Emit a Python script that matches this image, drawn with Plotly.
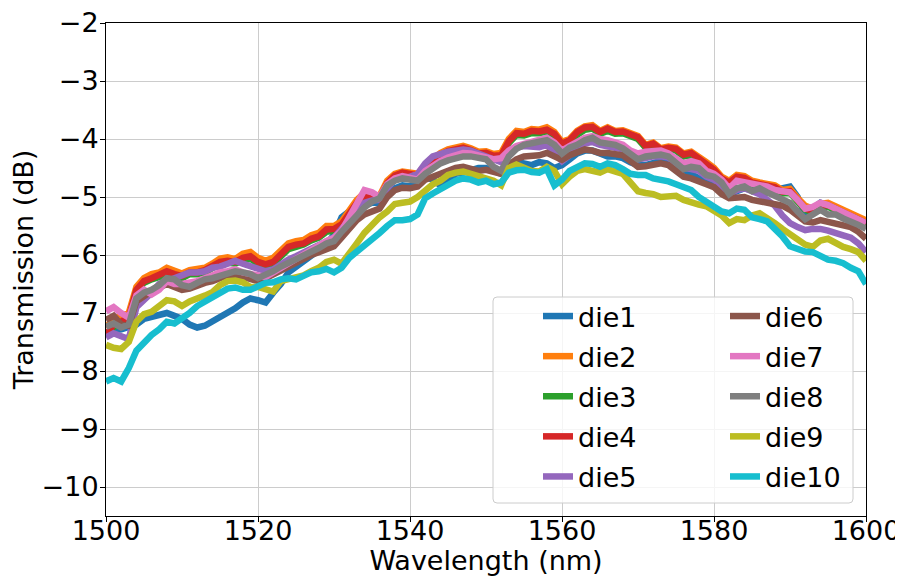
import plotly.graph_objects as go

wavelength = list(range(1500, 1601))

die1 = [-7.35, -7.3, -7.28, -7.25, -7.2, -7.1, -7.07, -7.02, -7.0, -7.05,
        -7.1, -7.2, -7.25, -7.22, -7.15, -7.05, -6.98, -6.92, -6.82, -6.75,
        -6.78, -6.82, -6.65, -6.5, -6.3, -6.2, -6.1, -6.0, -5.9, -5.82,
        -5.65, -5.35, -5.25, -5.3, -5.15, -5.1, -5.1, -4.95, -4.85, -4.8,
        -4.82, -4.75, -4.65, -4.7, -4.8, -4.75, -4.6, -4.58, -4.55, -4.5,
        -4.5, -4.55, -4.6, -4.5, -4.4, -4.42, -4.45, -4.4, -4.42, -4.5,
        -4.45, -4.35, -4.25, -4.2, -4.2, -4.25, -4.3, -4.3, -4.33, -4.4,
        -4.45, -4.45, -4.42, -4.38, -4.38, -4.45, -4.55, -4.62, -4.68, -4.7,
        -4.75, -4.85, -4.95, -4.9, -4.85, -4.88, -4.9, -4.92, -4.95, -4.85,
        -4.82, -5.0, -5.3, -5.2, -5.1, -5.15, -5.25, -5.3, -5.35, -5.42, -5.5]
die2 = [-7.25, -7.1, -7.05, -7.0, -6.55, -6.4, -6.33, -6.3, -6.22, -6.28,
        -6.32, -6.26, -6.25, -6.22, -6.15, -6.06, -6.04, -6.07, -5.98, -5.95,
        -6.05, -6.1, -6.05, -5.92, -5.8, -5.76, -5.74, -5.66, -5.62, -5.5,
        -5.5, -5.42, -5.25, -5.05, -4.93, -4.96, -4.98, -4.72, -4.6, -4.56,
        -4.57, -4.6, -4.45, -4.33, -4.24, -4.18, -4.15, -4.12, -4.16, -4.22,
        -4.21, -4.26, -4.24, -4.0, -3.86, -3.88, -3.83, -3.84, -3.8, -3.88,
        -4.05, -4.0, -3.86, -3.78, -3.76, -3.86, -3.8, -3.86, -3.85, -3.9,
        -3.95, -4.1, -4.06, -4.16, -4.13, -4.15, -4.25, -4.22, -4.3, -4.4,
        -4.5, -4.65, -4.72, -4.62, -4.64, -4.72, -4.75, -4.78, -4.8, -4.88,
        -4.86, -5.02, -5.15, -5.2, -5.12, -5.1, -5.16, -5.22, -5.27, -5.32, -5.4]
die3 = [-7.4, -7.24, -7.2, -7.12, -6.62, -6.48, -6.42, -6.38, -6.3, -6.36,
        -6.4, -6.33, -6.33, -6.3, -6.24, -6.15, -6.13, -6.15, -6.1, -6.06,
        -6.16, -6.2, -6.15, -6.02, -5.9, -5.86, -5.82, -5.75, -5.7, -5.6,
        -5.58, -5.5, -5.33, -5.14, -5.02, -5.03, -5.05, -4.8, -4.66, -4.62,
        -4.63, -4.66, -4.52, -4.4, -4.3, -4.24, -4.2, -4.18, -4.22, -4.28,
        -4.27, -4.32, -4.31, -4.07, -3.93, -3.94, -3.9, -3.9, -3.87, -3.94,
        -4.1, -4.05, -3.93, -3.84, -3.82, -3.91, -3.86, -3.91, -3.9, -3.95,
        -4.0, -4.15, -4.1, -4.21, -4.18, -4.2, -4.3, -4.27, -4.36, -4.46,
        -4.56, -4.71, -4.78, -4.68, -4.7, -4.78, -4.8, -4.84, -4.86, -4.94,
        -4.93, -5.08, -5.22, -5.27, -5.18, -5.17, -5.22, -5.29, -5.33, -5.39, -5.48]
die4 = [-7.38, -7.2, -7.15, -7.08, -6.6, -6.45, -6.4, -6.35, -6.28, -6.33,
        -6.36, -6.3, -6.3, -6.26, -6.2, -6.12, -6.1, -6.12, -6.05, -6.02,
        -6.12, -6.16, -6.12, -5.98, -5.86, -5.82, -5.8, -5.72, -5.68, -5.56,
        -5.55, -5.47, -5.3, -5.1, -4.98, -5.0, -5.02, -4.76, -4.63, -4.58,
        -4.6, -4.63, -4.5, -4.36, -4.28, -4.21, -4.18, -4.15, -4.19, -4.25,
        -4.24, -4.29, -4.28, -4.04, -3.9, -3.91, -3.86, -3.87, -3.84, -3.91,
        -4.08, -4.02, -3.88, -3.8, -3.79, -3.88, -3.82, -3.88, -3.87, -3.92,
        -3.97, -4.12, -4.08, -4.18, -4.15, -4.17, -4.27, -4.24, -4.33, -4.43,
        -4.53, -4.68, -4.75, -4.65, -4.67, -4.75, -4.78, -4.81, -4.83, -4.91,
        -4.9, -5.05, -5.2, -5.24, -5.15, -5.14, -5.2, -5.26, -5.3, -5.36, -5.45]
die5 = [-7.42, -7.35, -7.4, -7.45, -6.9, -6.78, -6.65, -6.5, -6.45, -6.4,
        -6.35, -6.3, -6.3, -6.28, -6.22, -6.2, -6.15, -6.1, -6.15, -6.2,
        -6.25, -6.28, -6.25, -6.15, -6.08, -6.02, -5.95, -5.88, -5.82, -5.75,
        -5.7, -5.55, -5.4, -5.22, -5.1, -5.06, -5.05, -4.85, -4.7, -4.66,
        -4.65, -4.6, -4.42, -4.3, -4.25, -4.22, -4.2, -4.18, -4.2, -4.25,
        -4.3, -4.36, -4.4, -4.25, -4.15, -4.12, -4.12, -4.14, -4.1, -4.25,
        -4.38, -4.28, -4.15, -4.08, -4.05, -4.1, -4.12, -4.14, -4.18, -4.27,
        -4.35, -4.33, -4.3, -4.3, -4.32, -4.42, -4.5, -4.52, -4.55, -4.65,
        -4.7, -4.82, -4.95, -4.88, -4.85, -4.9, -4.95, -5.05, -5.15, -5.32,
        -5.45, -5.52, -5.57, -5.55, -5.55, -5.58, -5.63, -5.66, -5.7, -5.8, -5.95]
die6 = [-7.12, -7.05, -7.2, -7.22, -6.8, -6.7, -6.62, -6.56, -6.5, -6.55,
        -6.6, -6.58, -6.52, -6.48, -6.45, -6.4, -6.35, -6.34, -6.38, -6.42,
        -6.45, -6.4, -6.33, -6.26, -6.2, -6.14, -6.08, -6.0, -5.95, -5.9,
        -5.85, -5.7, -5.55, -5.4, -5.3, -5.24, -5.2, -5.0, -4.88, -4.84,
        -4.85, -4.82, -4.7, -4.65, -4.6, -4.54, -4.5, -4.48, -4.52, -4.55,
        -4.53, -4.56, -4.6, -4.45, -4.35, -4.3, -4.3, -4.28, -4.24, -4.3,
        -4.36, -4.28, -4.22, -4.18, -4.2, -4.24, -4.24, -4.25, -4.28, -4.38,
        -4.48, -4.47, -4.45, -4.42, -4.45, -4.55, -4.65, -4.68, -4.72, -4.78,
        -4.83, -4.95, -5.02, -5.0, -5.0, -5.05, -5.08, -5.1, -5.12, -5.15,
        -5.22, -5.33, -5.42, -5.44, -5.4, -5.43, -5.46, -5.48, -5.52, -5.6, -5.72]
die7 = [-6.97, -6.9, -7.0, -7.08, -6.7, -6.6, -6.68, -6.6, -6.45, -6.5,
        -6.5, -6.48, -6.45, -6.4, -6.35, -6.3, -6.28, -6.25, -6.3, -6.32,
        -6.35, -6.38, -6.3, -6.22, -6.15, -6.08, -6.0, -5.92, -5.85, -5.76,
        -5.7, -5.58, -5.35, -5.1, -4.88, -4.92, -5.0, -4.78, -4.68, -4.64,
        -4.66, -4.7, -4.55, -4.45, -4.38, -4.32, -4.28, -4.24, -4.25, -4.28,
        -4.3, -4.35, -4.33, -4.2, -4.12, -4.08, -4.05, -4.0, -3.98, -4.06,
        -4.2, -4.12, -4.05, -3.98, -3.95, -4.0, -4.02, -4.05, -4.1, -4.2,
        -4.25, -4.22, -4.22, -4.2, -4.25, -4.35, -4.42, -4.38, -4.42, -4.55,
        -4.6, -4.7, -4.85, -4.72, -4.75, -4.78, -4.8, -4.82, -4.88, -4.9,
        -4.92, -5.05, -5.2, -5.17, -5.1, -5.14, -5.2, -5.24, -5.3, -5.36, -5.45]
die8 = [-7.24, -7.18, -7.25, -7.2, -6.75, -6.65, -6.6, -6.52, -6.4, -6.42,
        -6.52, -6.55, -6.48, -6.42, -6.4, -6.36, -6.3, -6.28, -6.3, -6.33,
        -6.4, -6.35, -6.28, -6.2, -6.14, -6.06, -6.0, -5.95, -5.88, -5.8,
        -5.76, -5.6, -5.45, -5.3, -5.18, -5.08, -5.02, -4.8, -4.72, -4.68,
        -4.71, -4.72, -4.6, -4.5, -4.42, -4.37, -4.33, -4.3, -4.3, -4.32,
        -4.35, -4.48, -4.55, -4.3, -4.17, -4.1, -4.08, -4.05, -4.02, -4.1,
        -4.25, -4.15, -4.1, -4.02, -3.98, -4.06, -4.08, -4.1, -4.16, -4.25,
        -4.35, -4.3, -4.28, -4.27, -4.3, -4.4, -4.52, -4.48, -4.5, -4.62,
        -4.65, -4.75, -4.95, -4.85, -4.82, -4.9, -4.85, -4.92, -4.98, -5.02,
        -5.1, -5.25, -5.38, -5.3, -5.22, -5.3, -5.3, -5.37, -5.42, -5.48, -5.55]
die9 = [-7.55, -7.6, -7.62, -7.5, -7.15, -7.02, -6.98, -6.88, -6.78, -6.8,
        -6.88, -6.8, -6.76, -6.7, -6.64, -6.52, -6.45, -6.44, -6.47, -6.55,
        -6.55, -6.6, -6.63, -6.45, -6.42, -6.38, -6.35, -6.28, -6.22, -6.12,
        -6.08, -6.15, -5.95, -5.8, -5.62, -5.48, -5.35, -5.25, -5.12, -5.1,
        -5.08, -5.0, -4.88, -4.78, -4.72, -4.62, -4.58, -4.56, -4.6, -4.64,
        -4.66, -4.72, -4.8, -4.5, -4.44, -4.5, -4.55, -4.56, -4.48, -4.55,
        -4.78, -4.65, -4.55, -4.52, -4.56, -4.58, -4.52, -4.55, -4.6, -4.75,
        -4.9, -4.93, -4.95, -5.0, -5.0, -4.98, -5.05, -5.1, -5.13, -5.16,
        -5.25, -5.32, -5.45, -5.38, -5.4, -5.32, -5.28, -5.35, -5.45, -5.55,
        -5.65, -5.75, -5.82, -5.86, -5.75, -5.72, -5.8, -5.86, -5.9, -5.95, -6.1]
die10 = [-8.18, -8.12, -8.18, -7.95, -7.65, -7.5, -7.38, -7.28, -7.15, -7.18,
         -7.1, -7.0, -6.88, -6.8, -6.75, -6.64, -6.58, -6.56, -6.6, -6.6,
         -6.55, -6.48, -6.47, -6.42, -6.4, -6.42, -6.36, -6.3, -6.28, -6.24,
         -6.3, -6.22, -6.05, -5.95, -5.82, -5.75, -5.62, -5.5, -5.4, -5.4,
         -5.38, -5.3, -5.02, -4.94, -4.86, -4.78, -4.72, -4.68, -4.7, -4.75,
         -4.72, -4.78, -4.75, -4.58, -4.54, -4.53, -4.57, -4.58, -4.52, -4.8,
         -4.7, -4.55, -4.48, -4.42, -4.43, -4.48, -4.42, -4.45, -4.52, -4.6,
         -4.62, -4.62, -4.68, -4.7, -4.73, -4.78, -4.82, -4.88, -5.0, -5.08,
         -5.15, -5.25, -5.28, -5.2, -5.22, -5.35, -5.38, -5.42, -5.55, -5.68,
         -5.85, -5.9, -5.94, -5.95, -6.02, -6.08, -6.1, -6.14, -6.22, -6.28, -6.5]

names = ["die1", "die2", "die3", "die4", "die5", "die6", "die7", "die8", "die9", "die10"]
series = [die1, die2, die3, die4, die5, die6, die7, die8, die9, die10]
colors = ["#1f77b4", "#ff7f0e", "#2ca02c", "#d62728", "#9467bd",
          "#8c564b", "#e377c2", "#7f7f7f", "#bcbd22", "#17becf"]

FONT = "DejaVu Sans"

fig = go.Figure()
for i, (n, s, c) in enumerate(zip(names, series, colors)):
    fig.add_trace(go.Scatter(
        x=wavelength, y=s, mode="lines", name=n, legendgroup=n,
        line=dict(color=c, width=6.5),
        legend="legend" if i < 5 else "legend2",
    ))

# page offset of the plot div (browser body margin)
OFF = 8
# plot area in page pixels
PX0, PX1, PY0, PY1 = 106, 866, 23, 516
W, H = 903 - OFF, 576 - OFF
L, T = PX0 - OFF, PY0 - OFF
R = W - (PX1 - OFF)
B = H - (PY1 - OFF)
pw, ph = PX1 - PX0, PY1 - PY0


def px_x(p):
    return (p - PX0) / pw


def px_y(p):
    return (PY1 - p) / ph


# rounded legend frame (matplotlib style)
x0, x1, y0, y1 = 493, 853, 297, 503
r = 4
rx, ry = r / pw, r / ph
X0, X1, Y0, Y1 = px_x(x0), px_x(x1), px_y(y1), px_y(y0)
path = (f"M{X0+rx},{Y1} L{X1-rx},{Y1} Q{X1},{Y1} {X1},{Y1-ry} L{X1},{Y0+ry} "
        f"Q{X1},{Y0} {X1-rx},{Y0} L{X0+rx},{Y0} Q{X0},{Y0} {X0},{Y0+ry} "
        f"L{X0},{Y1-ry} Q{X0},{Y1} {X0+rx},{Y1} Z")
fig.add_shape(type="path", path=path, xref="paper", yref="paper", layer="above",
              fillcolor="rgba(255,255,255,0.8)", line=dict(color="#cccccc", width=1))

legend_common = dict(bgcolor="rgba(0,0,0,0)", borderwidth=0, font=dict(family=FONT, size=27, color="black"),
                     xanchor="left", yanchor="top", orientation="v", tracegroupgap=2)

axis_common = dict(showline=True, linecolor="black", linewidth=1, mirror=True,
                   ticks="outside", ticklen=5, tickwidth=1, tickcolor="black",
                   showgrid=True, gridcolor="#cccccc", gridwidth=1, zeroline=False,
                   ticklabeloverflow="allow",
                   tickfont=dict(family=FONT, size=27, color="black"))

fig.update_layout(
    width=W, height=H,
    margin=dict(l=L, r=R, t=T, b=B, autoexpand=False),
    paper_bgcolor="white", plot_bgcolor="white",
    font=dict(family=FONT, size=27, color="black"),
    legend=dict(x=px_x(538), y=px_y(292), **legend_common),
    legend2=dict(x=px_x(725), y=px_y(292), **legend_common),
    xaxis=dict(range=[1500, 1600], tickmode="linear", tick0=1500, dtick=20,
               ticklabelstandoff=-14,
               title=dict(text="Wavelength (nm)", font=dict(family=FONT, size=27), standoff=28),
               **axis_common),
    yaxis=dict(range=[-10.5, -2], tickmode="linear", tick0=-10, dtick=1,
               ticklabelstandoff=-4,
               title=dict(text="Transmission (dB)", font=dict(family=FONT, size=27), standoff=0),
               **axis_common),
)

fig.write_html("out.html")
